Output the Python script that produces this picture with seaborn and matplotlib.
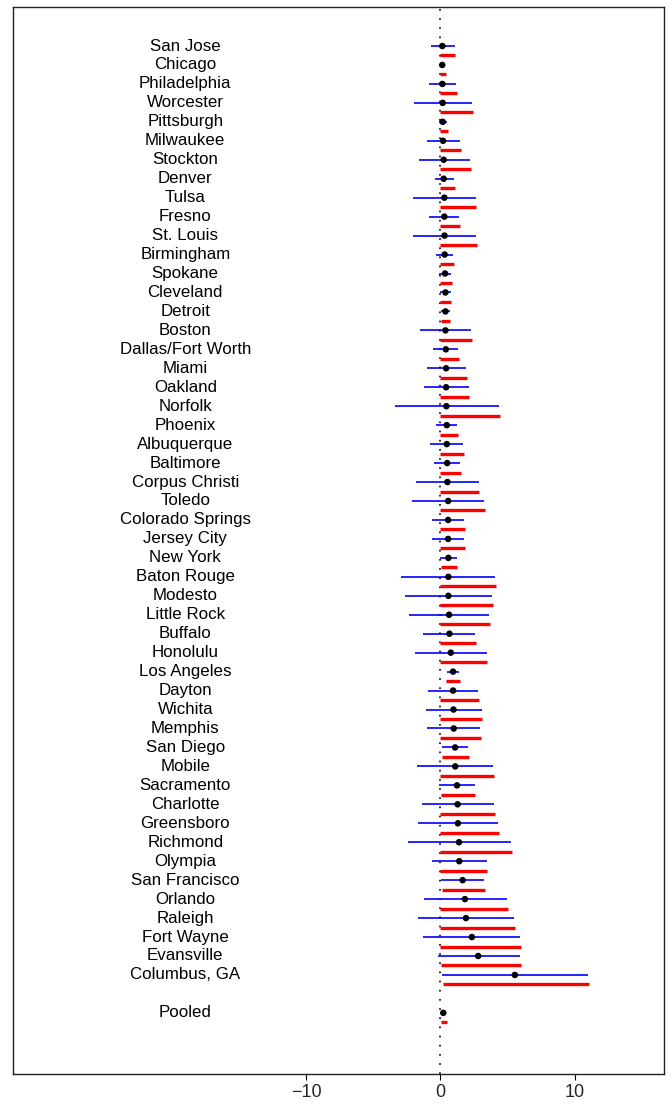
import matplotlib
matplotlib.use("Agg")
import matplotlib.pyplot as plt
import seaborn as sns
import pandas as pd
import numpy as np

# City-level estimates with intervals (blue) and one-sided intervals (red)
cities = [
    "San Jose", "Chicago", "Philadelphia", "Worcester", "Pittsburgh",
    "Milwaukee", "Stockton", "Denver", "Tulsa", "Fresno", "St. Louis",
    "Birmingham", "Spokane", "Cleveland", "Detroit", "Boston",
    "Dallas/Fort Worth", "Miami", "Oakland", "Norfolk", "Phoenix",
    "Albuquerque", "Baltimore", "Corpus Christi", "Toledo",
    "Colorado Springs", "Jersey City", "New York", "Baton Rouge", "Modesto",
    "Little Rock", "Buffalo", "Honolulu", "Los Angeles", "Dayton", "Wichita",
    "Memphis", "San Diego", "Mobile", "Sacramento", "Charlotte", "Greensboro",
    "Richmond", "Olympia", "San Francisco", "Orlando", "Raleigh",
    "Fort Wayne", "Evansville", "Columbus, GA",
]
estimate = [
    0.14, 0.13, 0.14, 0.17, 0.17, 0.19, 0.24, 0.24, 0.29, 0.29, 0.30,
    0.31, 0.34, 0.37, 0.37, 0.37, 0.40, 0.42, 0.42, 0.44, 0.47, 0.47,
    0.50, 0.52, 0.57, 0.57, 0.57, 0.59, 0.59, 0.59, 0.64, 0.67, 0.77,
    0.94, 0.94, 0.97, 0.99, 1.09, 1.10, 1.23, 1.28, 1.30, 1.38, 1.40,
    1.65, 1.82, 1.90, 2.34, 2.81, 5.54,
]
lower = [
    -0.73, -0.05, -0.86, -1.97, -0.11, -1.03, -1.62, -0.43, -2.02, -0.84,
    -2.02, -0.33, -0.13, -0.01, 0.06, -1.52, -0.53, -1.03, -1.23, -3.41,
    -0.33, -0.76, -0.46, -1.80, -2.14, -0.63, -0.65, -0.06, -2.91, -2.66,
    -2.36, -1.28, -1.92, 0.48, -0.90, -1.10, -1.00, 0.11, -1.72, -0.11,
    -1.38, -1.67, -2.42, -0.63, 0.06, -1.25, -1.65, -1.28, -0.21, 0.09,
]
upper = [
    1.06, 0.28, 1.18, 2.34, 0.50, 1.45, 2.19, 0.98, 2.62, 1.40, 2.66,
    0.95, 0.80, 0.76, 0.70, 2.29, 1.30, 1.92, 2.10, 4.35, 1.25, 1.67,
    1.45, 2.84, 3.23, 1.75, 1.77, 1.20, 4.05, 3.83, 3.63, 2.59, 3.43,
    1.40, 2.81, 3.06, 2.96, 2.07, 3.93, 2.54, 3.98, 4.27, 5.24, 3.46,
    3.23, 4.92, 5.46, 5.93, 5.91, 11.00,
]
red_lower = [
    0.00, 0.00, 0.00, 0.00, 0.00, 0.00, 0.00, 0.00, 0.00, 0.00, 0.00,
    0.00, 0.00, 0.00, 0.03, 0.00, 0.00, 0.00, 0.00, 0.00, 0.00, 0.00,
    0.00, 0.00, 0.00, 0.00, 0.00, 0.03, 0.00, 0.00, 0.00, 0.00, 0.00,
    0.43, 0.00, 0.00, 0.00, 0.11, 0.00, 0.05, 0.00, 0.00, 0.00, 0.00,
    0.11, 0.00, 0.00, 0.00, 0.06, 0.21,
]
red_upper = [
    1.10, 0.43, 1.25, 2.41, 0.58, 1.50, 2.24, 1.05, 2.67, 1.47, 2.70,
    1.00, 0.88, 0.79, 0.72, 2.34, 1.35, 1.97, 2.16, 4.40, 1.30, 1.75,
    1.50, 2.89, 3.28, 1.80, 1.82, 1.25, 4.13, 3.90, 3.68, 2.64, 3.48,
    1.45, 2.86, 3.11, 3.01, 2.12, 4.00, 2.59, 4.03, 4.33, 5.29, 3.50,
    3.30, 5.00, 5.52, 5.98, 5.96, 11.06,
]

# Pooled summary row
pooled_label = "Pooled"
pooled_estimate = 0.21
pooled_lower = 0.12
pooled_upper = 0.30
pooled_red_lower = 0.01
pooled_red_upper = 0.46

x_ticks = [-10, 0, 10]

sns.set_style("white")
plt.rcParams["font.family"] = ["Liberation Sans", "DejaVu Sans"]

rows = list(range(len(cities))) + [len(cities) + 1]
df = pd.DataFrame({
    "label": cities + [pooled_label],
    "row": rows,
    "est": estimate + [pooled_estimate],
    "lo": lower + [pooled_lower],
    "hi": upper + [pooled_upper],
    "rlo": red_lower + [pooled_red_lower],
    "rhi": red_upper + [pooled_red_upper],
})

fig = plt.figure(figsize=(6.72, 11.04), dpi=100)
ax = fig.add_axes([0.0189, 0.0276, 0.9693, 0.9661])

# zero reference line
ax.axvline(0, color="black", lw=1.2, ls=(0, (1, 4.5)), zorder=1)

# intervals
ax.hlines(df["row"], df["lo"], df["hi"], color="#0000ff", lw=1.2, zorder=2)
ax.hlines(df["row"] + 0.5, df["rlo"], df["rhi"], color="#ff0000", lw=2.4, zorder=2)

# point estimates
sns.scatterplot(data=df, x="est", y="row", ax=ax, color="black", s=22,
                edgecolor="none", zorder=3, legend=False)

# row labels
for lab, r in zip(df["label"], df["row"]):
    ax.text(-19.0, r, lab, ha="center", va="center", fontsize=12.2, color="black")

ax.set_xlim(-31.85, 16.65)
ax.set_ylim(54.2, -2.06)
ax.set_xticks(x_ticks)
ax.set_xticklabels([str(t).replace("-", "\u2212") for t in x_ticks], fontsize=13)
ax.set_yticks([])
ax.set_xlabel("")
ax.set_ylabel("")
ax.tick_params(axis="x", direction="out", length=4.5, width=0.8, color="black",
               pad=3, bottom=True)
for s in ax.spines.values():
    s.set_visible(True)
    s.set_color("#222222")
    s.set_linewidth(1.0)

fig.savefig("out.png", dpi=100, facecolor="white")
